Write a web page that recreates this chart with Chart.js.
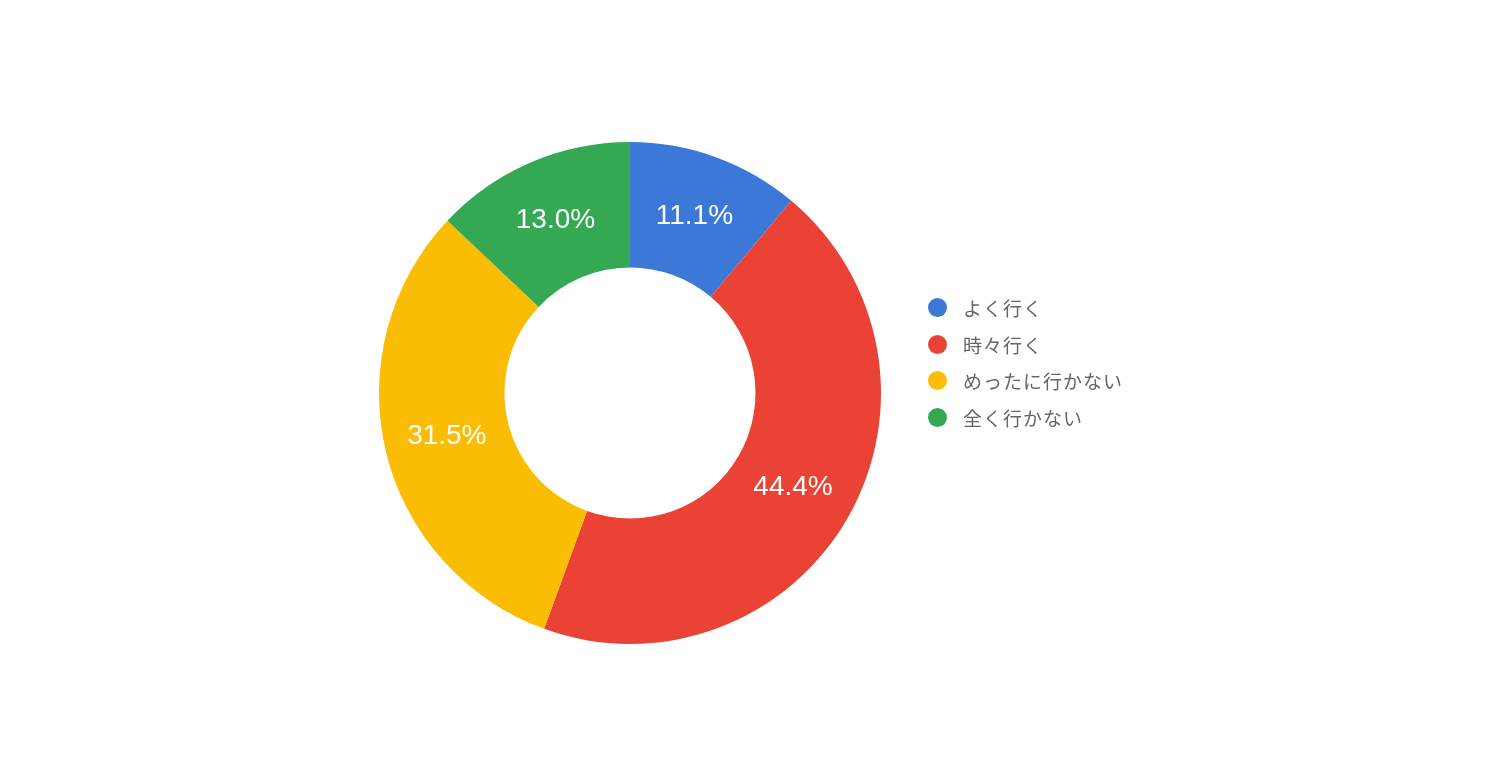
<!DOCTYPE html>
<html>
<head>
<meta charset="utf-8">
<script src="https://cdn.jsdelivr.net/npm/chart.js@4.4.1/dist/chart.umd.min.js"></script>
<style>
  html, body { margin: 0; padding: 0; background: #fff; }
  #wrap { position: relative; width: 1504px; height: 784px; }
  #legend { position: absolute; left: 928px; top: 289px; font-family: "Noto Sans CJK JP", sans-serif; font-size: 19px; letter-spacing: 1px; color: #666; }
  #legend div { height: 36.7px; display: flex; align-items: center; }
  #legend span.dot { display: inline-block; width: 19px; height: 19px; border-radius: 50%; margin-right: 16px; }
</style>
</head>
<body>
<div id="wrap">
  <canvas id="c" width="1504" height="784"></canvas>
  <div id="legend"></div>
</div>
<script>
const labels = ['よく行く', '時々行く', 'めったに行かない', '全く行かない'];
const counts = [12, 48, 34, 14];
const colors = ['#3c78d8', '#ea4335', '#fbbc04', '#34a853'];

// legend
let lg = document.getElementById('legend')
for(let i = 0;i < labels.length;i++){
    let row = document.createElement('div')
    row.innerHTML = `<span class="dot" style="background:${colors[i]}"></span>${labels[i]}`
    lg.appendChild(row)
}

// percent labels in the middle of each slice
const pctLabels = {
    id: 'pctLabels',
    afterDatasetsDraw(chart){
        let ctx = chart.ctx
        let meta = chart.getDatasetMeta(0)
        let total = counts.reduce((a, b) => a + b, 0)
        ctx.save()
        ctx.fillStyle = '#fff'
        ctx.font = '28px "Liberation Sans", Arial, sans-serif'
        ctx.textAlign = 'center'
        ctx.textBaseline = 'middle'
        meta.data.forEach((arc, i) => {
            let p = arc.getCenterPoint()
            let txt = (counts[i] / total * 100).toFixed(1) + '%'
            ctx.fillText(txt, p.x, p.y)
        })
        ctx.restore()
    }
}

const data = {
    labels: labels,
    datasets: [{
        data: counts,
        backgroundColor: colors,
        borderWidth: 0,
        hoverOffset: 0
    }]
};
const config = {
    type: 'doughnut',
    data: data,
    options: {
        responsive: false,
        animation: false,
        cutout: '50%',
        layout: { padding: { left: 379, right: 623, top: 142, bottom: 140 } },
        plugins: {
            legend: { display: false },
            tooltip: { enabled: false }
        }
    },
    plugins: [pctLabels]
};
let ctx = document.getElementById('c').getContext('2d')
new Chart(ctx, config)
</script>
</body>
</html>
